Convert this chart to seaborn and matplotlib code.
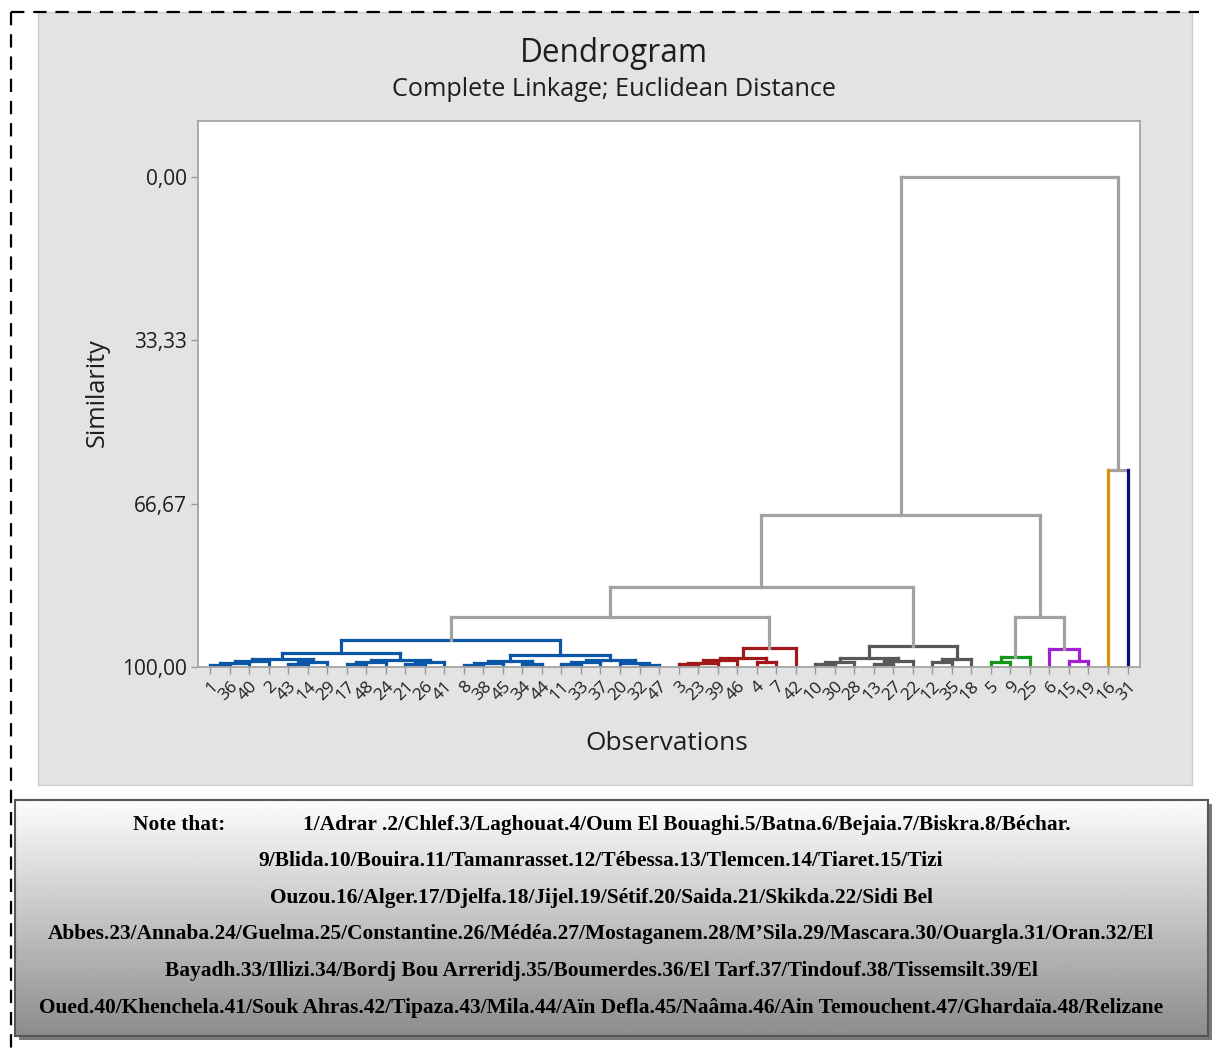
import numpy as np
import pandas as pd
import matplotlib
matplotlib.use("Agg")
import matplotlib.pyplot as plt
from matplotlib.patches import Rectangle
import seaborn as sns

# ---------------- data ----------------
leaf_labels = ["1", "36", "40", "2", "43", "14", "29", "17", "48", "24", "21", "26", "41",
               "8", "38", "45", "34", "44", "11", "33", "37", "20", "32", "47",
               "3", "23", "39", "46", "4", "7", "42",
               "10", "30", "28", "13", "27", "22", "12", "35", "18",
               "5", "9", "25",
               "6", "15", "19",
               "16", "31"]
leaf_cluster = [0] * 24 + [1] * 7 + [2] * 9 + [3] * 3 + [4] * 3 + [5] + [6]
cluster_colors = ["#0b56a6", "#a01818", "#585858", "#14981a", "#a020d2", "#e09000", "#0c0c82"]
link_gray = "#a2a2a2"

# each merge joins leaf range [start..split] with [split+1..end] at a similarity level
merge_start = [0, 0, 0, 4, 4, 0, 7, 7, 10, 10, 7, 0,
               13, 13, 16, 13, 18, 18, 22, 21, 18, 13, 0,
               24, 24, 24, 28, 24, 24,
               31, 31, 34, 34, 31, 37, 37, 31,
               40, 40, 44, 43, 40,
               0, 0, 0, 46, 0]
merge_split = [0, 1, 2, 4, 5, 3, 7, 8, 10, 11, 9, 6,
               13, 14, 16, 15, 18, 19, 22, 21, 20, 17, 12,
               24, 25, 26, 28, 27, 29,
               31, 32, 34, 35, 33, 37, 38, 36,
               40, 41, 44, 43, 42,
               23, 30, 39, 46, 45]
merge_end = [1, 2, 3, 5, 6, 6, 8, 9, 11, 12, 12, 12,
             14, 15, 17, 17, 19, 20, 23, 23, 23, 23, 23,
             25, 26, 27, 29, 29, 30,
             32, 33, 35, 36, 36, 38, 39, 39,
             41, 42, 45, 45, 45,
             30, 39, 45, 47, 47]
merge_similarity = [99.6, 99.1, 98.7, 99.3, 98.9, 98.3, 99.4, 98.9, 99.3, 99.0, 98.6, 97.1,
                    99.6, 99.1, 99.3, 98.7, 99.4, 99.0, 99.6, 99.2, 98.6, 97.6, 94.5,
                    99.4, 99.1, 98.6, 99.0, 98.2, 96.1,
                    99.4, 98.9, 99.3, 98.8, 98.2, 99.0, 98.3, 95.7,
                    99.0, 97.9, 98.8, 96.3, 89.8,
                    89.8, 83.7, 69.0, 59.8, 0.0]
y_ticks = [0.0, 33.33, 66.67, 100.0]
y_tick_labels = ["0,00", "33,33", "66,67", "100,00"]

note_lines = [
    "9/Blida.10/Bouira.11/Tamanrasset.12/Tébessa.13/Tlemcen.14/Tiaret.15/Tizi",
    "Ouzou.16/Alger.17/Djelfa.18/Jijel.19/Sétif.20/Saida.21/Skikda.22/Sidi Bel",
    "Abbes.23/Annaba.24/Guelma.25/Constantine.26/Médéa.27/Mostaganem.28/M\u2019Sila.29/Mascara.30/Ouargla.31/Oran.32/El",
    "Bayadh.33/Illizi.34/Bordj Bou Arreridj.35/Boumerdes.36/El Tarf.37/Tindouf.38/Tissemsilt.39/El",
    "Oued.40/Khenchela.41/Souk Ahras.42/Tipaza.43/Mila.44/Aïn Defla.45/Naâma.46/Ain Temouchent.47/Ghardaïa.48/Relizane",
]
note_head = "Note that:"
note_first = "1/Adrar .2/Chlef.3/Laghouat.4/Oum El Bouaghi.5/Batna.6/Bejaia.7/Biskra.8/Béchar."

# ---------------- build dendrogram segments ----------------
n = len(leaf_labels)
nodes = {(i, i): (float(i), 100.0) for i in range(n)}


def node_color(a, b):
    cl = set(leaf_cluster[a:b + 1])
    if len(cl) == 1:
        return cluster_colors[cl.pop()]
    return None


rows = []
seg = 0
for a, m, b, s in zip(merge_start, merge_split, merge_end, merge_similarity):
    xl, sl = nodes[(a, m)]
    xr, sr = nodes[(m + 1, b)]
    nc = node_color(a, b)
    hcol = nc if nc else link_gray

    def vcol(ca, cb):
        if nc:
            return nc
        if ca == cb:
            return cluster_colors[leaf_cluster[ca]]
        return link_gray

    for (x0, y0, x1, y1, c) in [
        (xl, sl, xl, s, vcol(a, m)),
        (xr, sr, xr, s, vcol(m + 1, b)),
        (xl, s, xr, s, hcol),
    ]:
        rows.append(dict(seg=seg, x=x0, y=y0, col=c))
        rows.append(dict(seg=seg, x=x1, y=y1, col=c))
        seg += 1
    nodes[(a, b)] = ((xl + xr) / 2.0, s)

df = pd.DataFrame(rows)

# ---------------- figure ----------------
sns.set_theme(style="white")
plt.rcParams["font.family"] = ["Open Sans", "DejaVu Sans"]

W, H = 1215, 1049
fig = plt.figure(figsize=(W / 100, H / 100), dpi=100)
fig.patch.set_facecolor("white")

bg = fig.add_axes([0, 0, 1, 1], zorder=0)
bg.set_xlim(0, W)
bg.set_ylim(H, 0)
bg.axis("off")

# outer dashed frame
bg.plot([11, 11], [12, H], color="black", lw=1.6, ls=(0, (6, 4)))
bg.plot([11, 1199], [12, 12], color="black", lw=1.6, ls=(0, (6, 4)))

# grey panel
bg.add_patch(Rectangle((38, 12), 1154, 773, facecolor="#e3e3e3", edgecolor="#cdcdcd", lw=1))

bg.text(614, 53, "Dendrogram", ha="center", va="center", fontsize=22.7, color="#1e1e1e")
bg.text(614, 89, "Complete Linkage; Euclidean Distance", ha="center", va="center",
        fontsize=18.2, color="#1e1e1e")

# note box with gradient
bg.add_patch(Rectangle((19, 804), 1193, 236, facecolor="#7a7a7a", edgecolor="none", zorder=1))
grad = np.linspace(0.99, 0.55, 200)[:, None]
bg.imshow(grad, cmap="gray", vmin=0, vmax=1, extent=(15, 1208, 1036, 800), aspect="auto", zorder=2)
bg.add_patch(Rectangle((15, 800), 1193, 236, facecolor="none", edgecolor="#555555", lw=1.5, zorder=3))
bg.set_xlim(0, W)
bg.set_ylim(H, 0)

serif = ["Liberation Serif", "DejaVu Serif"]
fs_note = 15.4
bg.text(133, 825, note_head, ha="left", va="center", fontsize=fs_note, fontweight="bold",
        family=serif, color="black", zorder=4)
bg.text(687, 825, note_first, ha="center", va="center", fontsize=fs_note, fontweight="bold",
        family=serif, color="black", zorder=4)
for i, line in enumerate(note_lines):
    bg.text(601, 861 + i * 36.7, line, ha="center", va="center", fontsize=fs_note,
            fontweight="bold", family=serif, color="black", zorder=4)

# main dendrogram axes
ax = fig.add_axes([198 / W, 1 - 667 / H, (1140 - 198) / W, (667 - 121) / H], zorder=2)
ax.set_facecolor("white")
sns.lineplot(data=df, x="x", y="y", units="seg", estimator=None, sort=False,
             hue="col", palette={c: c for c in df["col"].unique()}, legend=False,
             lw=2.3, ax=ax, solid_capstyle="projecting")

ax.set_xlim(-0.62, n - 1 + 0.64)
ax.set_ylim(100, -11.43)
ax.set_yticks(y_ticks)
ax.set_yticklabels(y_tick_labels, fontsize=15, color="#1e1e1e")
ax.set_xticks(np.arange(n))
ax.set_xticklabels(leaf_labels, rotation=45, ha="right", rotation_mode="anchor",
                   fontsize=12.5, color="#1e1e1e")
ax.tick_params(axis="both", which="both", direction="out", length=5, width=1,
               color="#9a9a9a", pad=3, bottom=True, left=True)
for sp in ax.spines.values():
    sp.set_color("#a4a4a4")
    sp.set_linewidth(1.3)

ax.set_xlabel("Observations", fontsize=18.9, color="#1e1e1e", va="center")
ax.set_ylabel("Similarity", fontsize=18.2, color="#1e1e1e", va="center")
ax.xaxis.set_label_coords(0.498, -0.141)
ax.yaxis.set_label_coords(-0.107, 0.502)

fig.savefig("out.png", dpi=100, facecolor="white")
